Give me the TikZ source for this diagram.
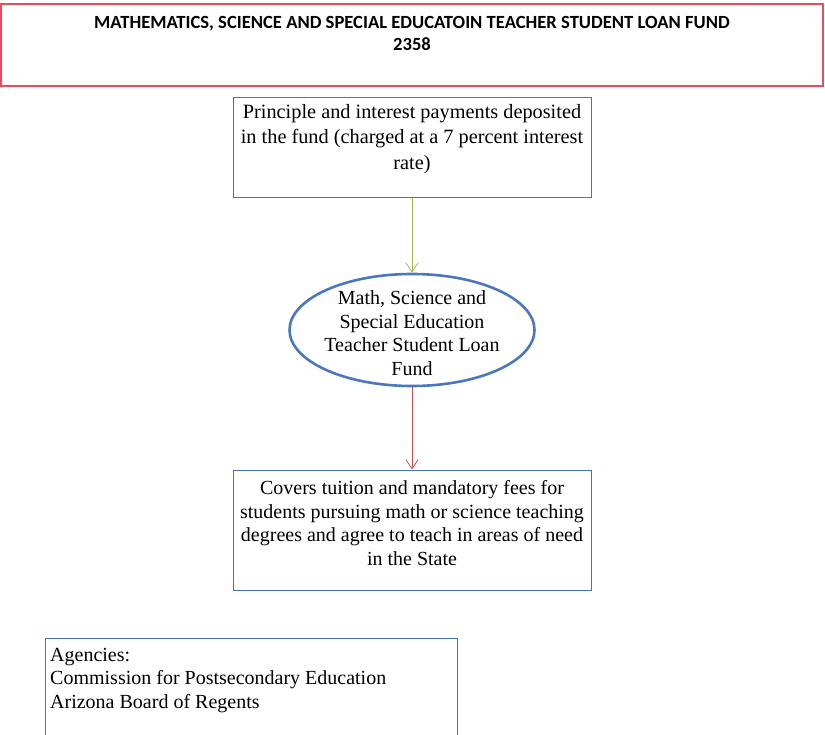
\documentclass[tikz,border=0pt]{standalone}
\usepackage{fontspec}
\setmainfont{Liberation Serif}
\newfontfamily\headfont{Carlito}
\usetikzlibrary{arrows.meta,shapes.geometric}
\definecolor{boxblue}{RGB}{68,114,196}
\definecolor{ringblue}{RGB}{74,119,190}
\definecolor{headred}{RGB}{232,78,88}
\definecolor{flowgreen}{RGB}{155,190,90}
\definecolor{flowred}{RGB}{192,80,77}
\tikzset{
  x=1pt, y=-1pt,
  frame/.style={draw=boxblue, line width=1pt, rectangle, inner sep=0pt},
  body/.style={font=\fontsize{20}{23.5}\selectfont, align=center, inner sep=0pt},
  flow/.style={line width=0.9pt, -{Straight Barb[length=9pt,width=12pt,line width=0.8pt]}},
}
\begin{document}
\begin{tikzpicture}
\useasboundingbox[fill=white] (0,0) rectangle (825,735);

% heading panel
\node[draw=headred, line width=1.2pt, minimum width=822pt, minimum height=82pt, inner sep=0pt]
  (head) at (412,45) {};
\node[font=\headfont\bfseries\fontsize{18.6}{22}\selectfont, align=center, inner sep=0pt]
  (headtxt) at (412,33) {MATHEMATICS, SCIENCE AND SPECIAL EDUCATOIN TEACHER STUDENT LOAN FUND\\2358};

% revenue source
\node[frame, minimum width=358pt, minimum height=100pt] (src) at (412,148) {};
\node[body, font=\fontsize{20.3}{25.5}\selectfont] (srctxt) at (412,139)
  {Principle and interest payments deposited\\in the fund (charged at a 7 percent interest\\rate)};

% the fund itself
\node[ellipse, draw=ringblue, line width=2.6pt, minimum width=245pt, minimum height=112pt, inner sep=0pt]
  (fund) at (412,330) {};
\node[body] (fundtxt) at (412,333)
  {Math, Science and\\Special Education\\Teacher Student Loan\\Fund};

% use of monies
\node[frame, minimum width=358pt, minimum height=120pt] (use) at (412,530) {};
\node[body] (usetxt) at (412,523)
  {Covers tuition and mandatory fees for\\students pursuing math or science teaching\\degrees and agree to teach in areas of need\\in the State};

% administering agencies
\node[frame, minimum width=412pt, minimum height=120pt] (agency) at (251,698) {};
\node[body, align=left, anchor=north west] (agencytxt) at (50,648)
  {Agencies:\\Commission for Postsecondary Education\\Arizona Board of Regents};

% connectors
\draw[flow, draw=flowgreen] (src.south -| fund.north) -- (fund.north);
\draw[flow, draw=flowred] (fund.south) -- (use.north -| fund.south);
\end{tikzpicture}
\end{document}
